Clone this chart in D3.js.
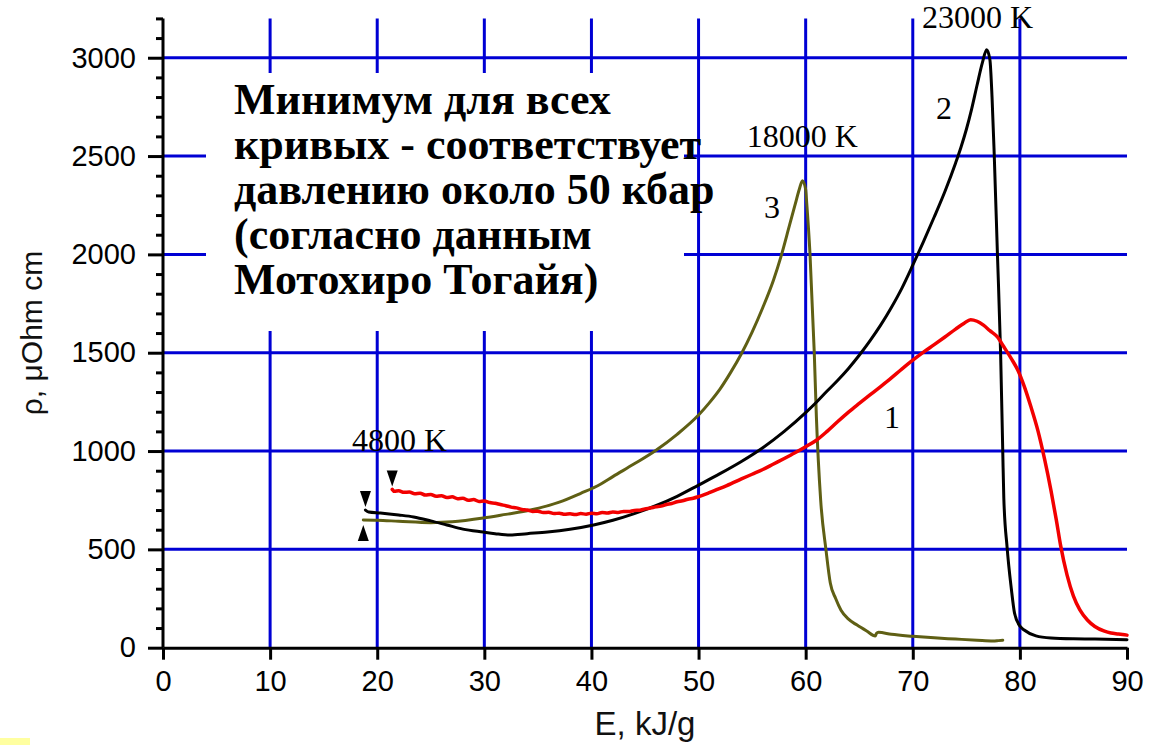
<!DOCTYPE html>
<html lang="ru">
<head>
<meta charset="utf-8">
<title>ρ(E)</title>
<script src="https://cdn.jsdelivr.net/npm/d3@7/dist/d3.min.js"></script>
<style>
  html, body { margin: 0; padding: 0; background: #ffffff; }
  svg { display: block; }
</style>
</head>
<body>
<svg id="chart" width="1149" height="745"></svg>
<script>
// ---- data: specific energy E (kJ/g) vs resistivity rho (µOhm·cm) ----
const curve1 = [ // red, curve "1"
  [21.4, 805],[21.6, 795],[22.0, 798],[22.5, 790],[23.0, 792],[23.5, 783],[24.0, 786],
  [24.5, 776],[25.0, 779],[25.5, 770],[26.0, 773],[26.5, 764],[27.0, 767],[27.5, 758],
  [28.0, 760],[28.5, 750],[29.0, 753],[29.5, 744],[30.0, 746],[30.5, 738],[31.0, 735],
  [31.5, 728],[32.0, 722],[32.5, 715],[33.0, 711],[33.5, 703],[34.0, 700],[34.5, 693],
  [35.0, 694],[35.5, 687],[36.0, 689],[36.5, 682],[37.0, 684],[37.5, 678],[38.0, 681],
  [38.5, 677],[39.0, 682],[39.5, 679],[40.0, 684],[40.5, 681],[41.0, 687],[41.5, 685],
  [42.0, 690],[42.5, 688],[43.0, 693],[43.5, 692],[44.0, 698],[44.5, 699],[45.0, 706],
  [45.5, 710],[46.0, 716],[46.5, 720],[47.0, 728],[47.5, 733],[48.0, 742],[48.5, 747],
  [49.0, 755],[49.5, 760],[50.0, 768],[51.0, 788],[52.0, 810],[53.0, 833],[54.0, 858],
  [55.0, 882],[56.0, 906],[57.0, 934],[58.0, 962],[59.0, 991],[60.0, 1022],[61.0, 1055],
  [62.0, 1100],[63.0, 1150],[64.0, 1198],[65.0, 1242],[66.0, 1285],[67.0, 1328],
  [68.0, 1372],[69.0, 1418],[70.0, 1462],[71.0, 1503],[72.0, 1541],[73.0, 1580],
  [74.0, 1620],[74.8, 1650],[75.4, 1668],[76.0, 1660],[76.6, 1640],[77.2, 1612],
  [77.9, 1580],[78.5, 1530],[79.2, 1470],[79.8, 1412],[80.4, 1330],[81.0, 1230],
  [81.7, 1100],[82.3, 960],[82.9, 800],[83.4, 650],[83.8, 520],[84.4, 370],[85.0, 262],
  [85.6, 192],[86.3, 141],[87.0, 108],[87.9, 84],[88.5, 75],[89.2, 70],[90.0, 64]
];
const curve2 = [ // black, curve "2"
  [18.9, 700],[19.2, 690],[20.3, 685],[22.0, 675],[23.4, 665],[25.0, 645],[26.5, 624],
  [28.0, 603],[29.9, 588],[31.0, 580],[32.4, 573],[34.0, 580],[35.9, 588],[38.0, 602],
  [40.2, 624],[42.0, 648],[44.0, 682],[46.0, 722],[48.0, 770],[50.0, 827],[52.0, 885],
  [54.0, 947],[56.0, 1017],[58.0, 1100],[60.0, 1195],[61.0, 1248],[62.0, 1305],
  [63.0, 1360],[64.0, 1420],[65.0, 1487],[66.0, 1560],[67.0, 1640],[68.0, 1730],
  [69.0, 1830],[70.0, 1945],[71.0, 2065],[72.0, 2190],[73.0, 2320],[74.0, 2465],
  [74.5, 2545],[75.0, 2635],[75.5, 2740],[76.0, 2860],[76.5, 2975],[76.9, 3040],
  [77.2, 2990],[77.4, 2800],[77.6, 2514],[77.9, 2007],[78.2, 1498],[78.4, 1000],
  [78.5, 760],[78.8, 514],[79.2, 300],[79.5, 176],[80.0, 110],[80.4, 90],[81.5, 60],
  [82.9, 49],[85.0, 45],[87.0, 44],[90.0, 40]
];
const curve3 = [ // olive, curve "3"
  [18.7, 649],[20.0, 648],[22.0, 643],[25.0, 636],[27.0, 640],[29.9, 659],[32.0, 678],
  [34.3, 700],[37.0, 740],[39.0, 785],[40.8, 830],[42.0, 870],[44.0, 935],[46.0, 1003],
  [48.0, 1085],[50.0, 1183],[51.0, 1245],[52.0, 1315],[53.0, 1400],[54.0, 1495],
  [55.0, 1605],[56.0, 1730],[57.0, 1870],[57.7, 1990],[58.5, 2150],[59.0, 2250],
  [59.4, 2330],[59.7, 2375],[60.0, 2330],[60.1, 2260],[60.4, 2007],[60.8, 1505],
  [61.0, 1175],[61.4, 751],[61.9, 496],[62.3, 329],[62.8, 250],[63.3, 191],[64.0, 145],
  [64.8, 115],[65.7, 85],[66.5, 60],[66.6, 72],[66.8, 78],[68.0, 68],[70.0, 58],
  [72.0, 50],[74.0, 44],[76.0, 38],[77.5, 34],[78.0, 36],[78.4, 38]
];

const xTicks = [0, 10, 20, 30, 40, 50, 60, 70, 80, 90];
const yTicks = [0, 500, 1000, 1500, 2000, 2500, 3000];
const xGrid = [10, 20, 30, 40, 50, 60, 70, 80];
const yGrid = [500, 1000, 1500, 2000, 2500, 3000];

const noteLines = [
  "Минимум для всех",
  "кривых - соответствует",
  "давлению около 50 кбар",
  "(согласно данным",
  "Мотохиро Тогайя)"
];
// annotation anchors in data units [E, rho]
const annotations = [
  { text: "23000 K", at: [70.86, 3151], anchor: "start" },
  { text: "18000 K", at: [54.5, 2546], anchor: "start" },
  { text: "4800 K", at: [17.65, 1000], anchor: "start" },
  { text: "3", at: [56.86, 2185], anchor: "middle" },
  { text: "2", at: [72.92, 2688], anchor: "middle" },
  { text: "1", at: [68.06, 1117], anchor: "middle" }
];

// ---- layout ----
const svg = d3.select("#chart");
const x = d3.scaleLinear().domain([0, 90]).range([163, 1127]);
const y = d3.scaleLinear().domain([0, 3200]).range([647.7, 18.4]);

const gridColor = "#0000d4";

// small yellow swatch in the lower-left corner
svg.append("rect").attr("x", 0).attr("y", 738).attr("width", 30).attr("height", 7)
  .attr("fill", "#ffffa0");

// grid
const grid = svg.append("g");
grid.selectAll("line.h").data(yGrid).join("line").attr("class", "h")
  .attr("x1", x(0)).attr("x2", x(90))
  .attr("y1", d => y(d)).attr("y2", d => y(d))
  .attr("stroke", gridColor).attr("stroke-width", 3);
grid.selectAll("line.v").data(xGrid).join("line").attr("class", "v")
  .attr("x1", d => x(d)).attr("x2", d => x(d))
  .attr("y1", y(0)).attr("y2", y(3200))
  .attr("stroke", gridColor).attr("stroke-width", 3);

// white panel behind the note
svg.append("rect").attr("x", 206).attr("y", 73).attr("width", 478).attr("height", 258)
  .attr("fill", "#ffffff");

// axes
const tickFont = "'Liberation Sans', Arial, sans-serif";
const fmt = d3.format("d");
const yAxisMinor = d3.axisLeft(y)
  .tickValues(d3.range(0, 3201, 100).filter(v => v % 500 !== 0))
  .tickSize(7).tickFormat("");
const yAxis = d3.axisLeft(y).tickValues(yTicks).tickFormat(fmt)
  .tickSize(15).tickSizeOuter(0).tickPadding(12);
const xAxis = d3.axisBottom(x).tickValues(xTicks).tickFormat(fmt)
  .tickSize(12).tickSizeOuter(0).tickPadding(11);

const gy = svg.append("g").attr("transform", `translate(${x(0)},0)`);
gy.call(yAxisMinor);
gy.select(".domain").remove();
const gyMaj = svg.append("g").attr("transform", `translate(${x(0)},0)`).call(yAxis);
const gx = svg.append("g").attr("transform", `translate(0,${y(0)})`).call(xAxis);

[gy, gyMaj, gx].forEach(g => {
  g.selectAll("line").attr("stroke", "#000").attr("stroke-width", 3);
  g.selectAll(".domain").attr("stroke", "#000").attr("stroke-width", 3);
  g.selectAll("text").attr("font-family", tickFont).attr("font-size", 29).attr("fill", "#000");
});
gyMaj.select(".domain").attr("d", `M0,${y(3200)}V${y(0)}`);

// axis titles
svg.append("text")
  .attr("x", (x(0) + x(90)) / 2).attr("y", 735)
  .attr("text-anchor", "middle")
  .attr("font-family", tickFont).attr("font-size", 33).attr("fill", "#111")
  .text("E, kJ/g");
svg.append("text")
  .attr("transform", `translate(42,${(y(0) + y(3200)) / 2}) rotate(-90)`)
  .attr("text-anchor", "middle")
  .attr("font-family", tickFont).attr("font-size", 30).attr("fill", "#111")
  .text("ρ, μOhm cm");

// curves
const line = d3.line().x(d => x(d[0])).y(d => y(d[1])).curve(d3.curveMonotoneX);
const curves = [
  { data: curve3, color: "#5f5f14", width: 3 },
  { data: curve2, color: "#000000", width: 3 },
  { data: curve1, color: "#f20000", width: 3.5 }
];
svg.append("g").selectAll("path").data(curves).join("path")
  .attr("d", d => line(d.data))
  .attr("fill", "none")
  .attr("stroke", d => d.color)
  .attr("stroke-width", d => d.width)
  .attr("stroke-linejoin", "round")
  .attr("stroke-linecap", "round");

// start markers: small triangles pointing at the first point of each curve
function tri(cx, tipY, dir) { // dir = +1 points down, -1 points up
  const p = d3.path();
  const h = 16, w = 5.5;
  p.moveTo(cx, tipY);
  p.lineTo(cx - w, tipY - dir * h);
  p.lineTo(cx + w, tipY - dir * h);
  p.closePath();
  return p.toString();
}
const markers = [
  { pt: curve1[0], gap: 3, dir: 1 },
  { pt: curve2[0], gap: 3, dir: 1 },
  { pt: curve3[0], gap: 5, dir: -1 }
];
svg.append("g").selectAll("path").data(markers).join("path")
  .attr("d", m => tri(x(m.pt[0]), y(m.pt[1]) - m.dir * m.gap, m.dir))
  .attr("fill", "#000");

// curve annotations
svg.append("g").selectAll("text").data(annotations).join("text")
  .attr("x", d => x(d.at[0])).attr("y", d => y(d.at[1]))
  .attr("text-anchor", d => d.anchor)
  .attr("font-family", "'Liberation Serif', 'Times New Roman', serif")
  .attr("font-size", 32).attr("fill", "#000")
  .text(d => d.text);

// note
svg.append("g").selectAll("text").data(noteLines).join("text")
  .attr("x", 234).attr("y", (d, i) => 114 + i * 45)
  .attr("font-family", "'Liberation Serif', 'Times New Roman', serif")
  .attr("font-weight", "bold").attr("font-size", 44).attr("fill", "#000")
  .text(d => d);
</script>
</body>
</html>
